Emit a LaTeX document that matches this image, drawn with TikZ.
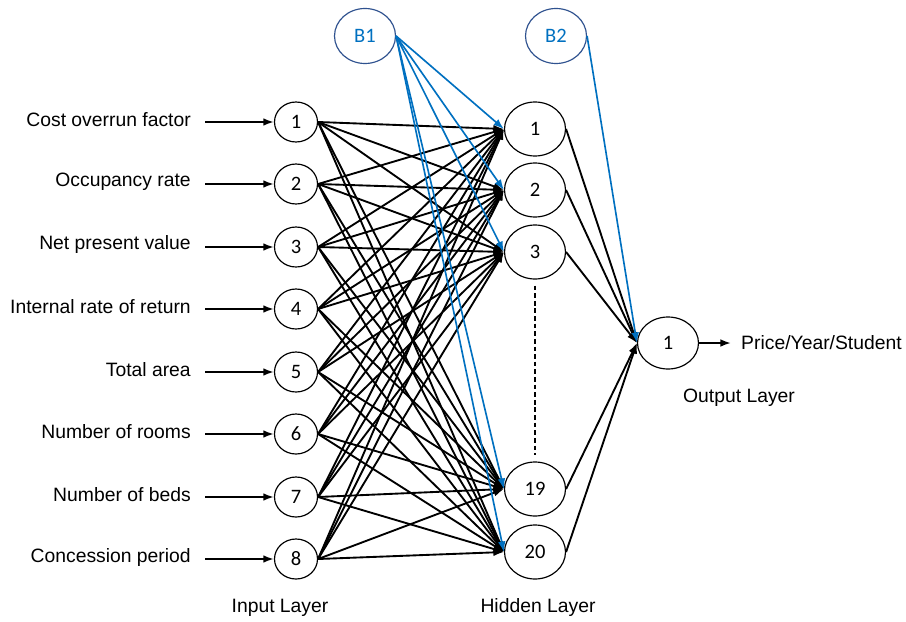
\documentclass[tikz,border=0pt]{standalone}
\usepackage{fontspec}
\setmainfont{Liberation Sans}
\newfontfamily\numfont{Carlito}
\usetikzlibrary{arrows.meta,shapes.geometric}

\definecolor{biasblue}{RGB}{0,112,192}
\definecolor{biasring}{RGB}{47,82,143}

\tikzset{
  neuron/.style={draw, ellipse, line width=1pt, inner sep=0pt,
    font=\numfont\fontsize{17.5}{20}\selectfont},
  inneuron/.style={neuron, minimum width=1.29cm, minimum height=1.2cm},
  hidneuron/.style={neuron, minimum width=1.83cm, minimum height=1.62cm},
  outneuron/.style={neuron, minimum width=1.83cm, minimum height=1.56cm},
  biasnode/.style={neuron, draw=biasring, text=biasblue,
    minimum width=1.83cm, minimum height=1.65cm},
  lbl/.style={font=\fontsize{16.5}{20}\selectfont, inner sep=0pt},
  wire/.style={line width=1.6pt, -{Latex[length=9pt,width=6.5pt]}},
  biaswire/.style={draw=biasblue, line width=1.4pt, -{Latex[length=9pt,width=6.5pt]}}
}

\begin{document}
\begin{tikzpicture}[x=0.03cm,y=-0.03cm]
      \useasboundingbox (0,0) rectangle (906,621);

      % input layer
      \node[inneuron] (i1) at (296,122) {1};
      \node[inneuron] (i2) at (296,184) {2};
      \node[inneuron] (i3) at (296,247) {3};
      \node[inneuron] (i4) at (296,309) {4};
      \node[inneuron] (i5) at (296,372) {5};
      \node[inneuron] (i6) at (296,434) {6};
      \node[inneuron] (i7) at (296,497) {7};
      \node[inneuron] (i8) at (296,559) {8};

      \node[lbl, inner xsep=0.42cm, anchor=east] (l1) at (205,120) {Cost overrun factor};
      \node[lbl, inner xsep=0.42cm, anchor=east] (l2) at (205,182) {Occupancy rate};
      \node[lbl, inner xsep=0.42cm, anchor=east] (l3) at (205,245) {Net present value};
      \node[lbl, inner xsep=0.42cm, anchor=east] (l4) at (205,307) {Internal rate of return};
      \node[lbl, inner xsep=0.42cm, anchor=east] (l5) at (205,370) {Total area};
      \node[lbl, inner xsep=0.42cm, anchor=east] (l6) at (205,432) {Number of rooms};
      \node[lbl, inner xsep=0.42cm, anchor=east] (l7) at (205,495) {Number of beds};
      \node[lbl, inner xsep=0.42cm, anchor=east] (l8) at (205,557) {Concession period};

      % hidden layer
      \node[hidneuron] (h1) at (535,129) {1};
      \node[hidneuron] (h2) at (535,190) {2};
      \node[hidneuron] (h3) at (535,252) {3};
      \node[hidneuron] (h19) at (535,489) {19};
      \node[hidneuron] (h20) at (535,552) {20};

      % output layer and biases
      \node[outneuron] (o1) at (668,343) {1};
      \node[biasnode] (b1) at (365,36) {B1};
      \node[biasnode] (b2) at (556,36) {B2};

      \node[lbl, inner xsep=0.3cm, anchor=west] (price) at (731,343) {Price/Year/Student};
      \node[lbl] (inlayer) at (280,608) {Input Layer};
      \node[lbl] (hidlayer) at (538,607) {Hidden Layer};
      \node[lbl] (outlayer) at (739,398) {Output Layer};

      % connections
      \foreach \a in {1,...,8}
        \draw[wire] (l\a.east |- i\a.west) -- (i\a.west);
      \foreach \a in {1,...,8}
        \foreach \b in {1,2,3,19,20}
          \draw[wire] (i\a.east) -- (h\b.west);
      \foreach \b in {1,2,3,19,20}
        \draw[wire] (h\b.east) -- (o1.west);
      \draw[wire] (o1.east) -- (price.west);
      \draw[line width=1pt, dash pattern=on 4pt off 2.5pt,
        shorten <=0.18cm, shorten >=0.18cm] (h3.south) -- (h19.north);
      \foreach \b in {1,2,3,19,20}
        \draw[biaswire] (b1.east) -- (h\b.west);
      \draw[biaswire] (b2.east) -- (o1.west);
\end{tikzpicture}
\end{document}
